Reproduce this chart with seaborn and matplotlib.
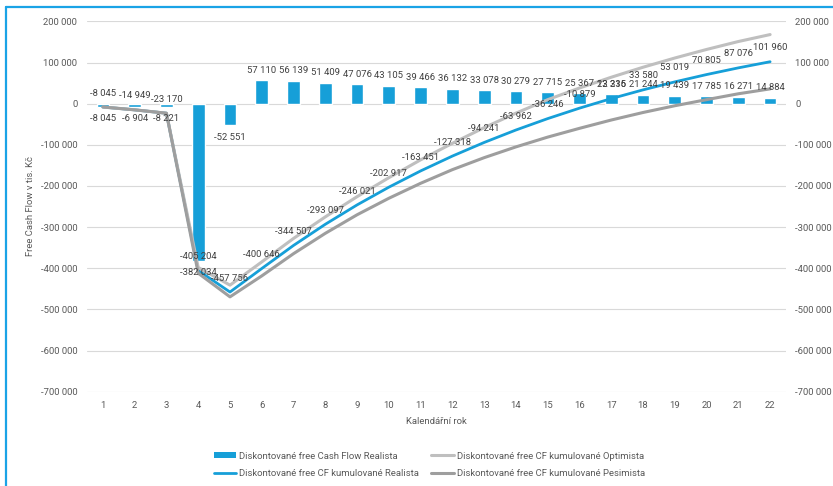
import matplotlib
matplotlib.use("Agg")
import matplotlib.pyplot as plt
import seaborn as sns
import pandas as pd
from matplotlib.lines import Line2D
from matplotlib.patches import Patch
from matplotlib.ticker import FuncFormatter

# Kalendářní roky projektu
roky = [1, 2, 3, 4, 5, 6, 7, 8, 9, 10, 11, 12, 13, 14, 15, 16, 17, 18, 19, 20, 21, 22]

# Diskontované free Cash Flow - scénář Realista (tis. Kč)
cf_realista = [-8045, -6904, -8221, -382034, -52551, 57110, 56139, 51409, 47076, 43105,
               39466, 36132, 33078, 30279, 27715, 25367, 23215, 21244, 19439, 17785,
               16271, 14884]

# Kumulované diskontované free CF podle scénářů (tis. Kč)
kum_realista = [-8045, -14949, -23170, -405204, -457756, -400646, -344507, -293097,
                -246021, -202917, -163451, -127318, -94241, -63962, -36246, -10879,
                12336, 33580, 53019, 70805, 87076, 101960]
kum_optimista = [-8045, -14949, -23170, -398000, -441000, -384600, -327500, -275100,
                 -226000, -179900, -136500, -96300, -58200, -23000, 9800, 38100,
                 64300, 88600, 111000, 131800, 151100, 168000]
kum_pesimista = [-8045, -14949, -23170, -412000, -469500, -418600, -364500, -315100,
                 -270000, -229900, -193500, -160300, -131200, -105000, -81200, -59900,
                 -39700, -21400, -5000, 9800, 24100, 36000]

osa_y = [200000, 100000, 0, -100000, -200000, -300000, -400000, -500000, -600000, -700000]

popisky = [
    "Diskontované free Cash Flow Realista",
    "Diskontované free CF kumulované Realista",
    "Diskontované free CF kumulované Optimista",
    "Diskontované free CF kumulované Pesimista",
]

MODRA = "#169FD8"
SVETLE_SEDA = "#BFBFBF"
SEDA = "#9E9E9E"
TEXT = "#595959"
POPISEK = "#404040"
FS = 6.8

sns.set_style("white")
plt.rcParams["font.family"] = ["Roboto", "DejaVu Sans"]


def cislo(v, _=None):
    return f"{int(round(v)):,}".replace(",", " ")


df = pd.DataFrame({
    "rok": roky,
    "cf": cf_realista,
    "realista": kum_realista,
    "optimista": kum_optimista,
    "pesimista": kum_pesimista,
})

fig = plt.figure(figsize=(8.33, 4.86), dpi=100)
ax = fig.add_axes([87 / 833, 94.3 / 486, 699 / 833, 370.3 / 486])

sns.barplot(data=df, x="rok", y="cf", native_scale=True, width=0.4, color=MODRA,
            saturation=1, errorbar=None, ax=ax, zorder=2)
sns.lineplot(data=df, x="rok", y="realista", color=MODRA, linewidth=2.0, ax=ax, zorder=3)
sns.lineplot(data=df, x="rok", y="optimista", color=SVETLE_SEDA, linewidth=2.2, ax=ax, zorder=3)
sns.lineplot(data=df, x="rok", y="pesimista", color=SEDA, linewidth=2.2, ax=ax, zorder=3)

ax.set_xlim(0.5, 22.5)
ax.set_ylim(-700000, 200000)
ax.set_xticks(roky)
ax.set_xticklabels([str(r) for r in roky])
ax.set_yticks(osa_y)
ax.yaxis.set_major_formatter(FuncFormatter(cislo))
ax.grid(axis="y", color="#D9D9D9", linewidth=0.8, zorder=0)
ax.grid(axis="x", visible=False)
for s in ax.spines.values():
    s.set_visible(False)
ax.tick_params(axis="both", length=0, labelsize=FS, colors=TEXT)
ax.tick_params(axis="y", pad=7)
ax.tick_params(axis="x", pad=6.5)
ax.set_xlabel("Kalendářní rok", fontsize=FS, color=TEXT, labelpad=5)
ax.set_ylabel("Free Cash Flow v tis. Kč", fontsize=FS, color=TEXT, labelpad=4)

# pravá osa se stejným měřítkem
ax2 = ax.twinx()
ax2.set_ylim(ax.get_ylim())
ax2.set_yticks(osa_y)
ax2.yaxis.set_major_formatter(FuncFormatter(cislo))
ax2.tick_params(axis="y", length=0, labelsize=FS, colors=TEXT, pad=6.5)
for s in ax2.spines.values():
    s.set_visible(False)

# popisky hodnot sloupců
for r, v in zip(roky, cf_realista):
    ax.annotate(cislo(v), (r, v), xytext=(0, 7.2 if v > 0 else -8.5),
                textcoords="offset points", ha="center", va="center",
                fontsize=FS, color=POPISEK, zorder=5)

# popisky kumulované křivky Realista
for r, v in zip(roky, kum_realista):
    ax.annotate(cislo(v), (r, v), xytext=(0, 10),
                textcoords="offset points", ha="center", va="center",
                fontsize=FS, color=POPISEK, zorder=5)

handles = [
    Patch(facecolor=MODRA, edgecolor="none"),
    Line2D([], [], color=MODRA, linewidth=2.0),
    Line2D([], [], color=SVETLE_SEDA, linewidth=2.2),
    Line2D([], [], color=SEDA, linewidth=2.2),
]
fig.legend(handles, popisky, ncol=2, loc="upper left",
           bbox_to_anchor=(205 / 833, 1 - 443 / 486), frameon=False,
           fontsize=FS, labelcolor=TEXT, handlelength=2.4, handleheight=0.6,
           handletextpad=0.3, columnspacing=1.3, labelspacing=0.9)

# rámeček grafu
fig.add_artist(Line2D([5.5 / 833, 5.5 / 833], [0, 1 - 7 / 486], color="#1AA3E6",
                      linewidth=1.6, transform=fig.transFigure))
fig.add_artist(Line2D([5.5 / 833, 1], [1 - 7.5 / 486, 1 - 7.5 / 486], color="#1AA3E6",
                      linewidth=1.6, transform=fig.transFigure))

fig.savefig("out.png", dpi=100)
